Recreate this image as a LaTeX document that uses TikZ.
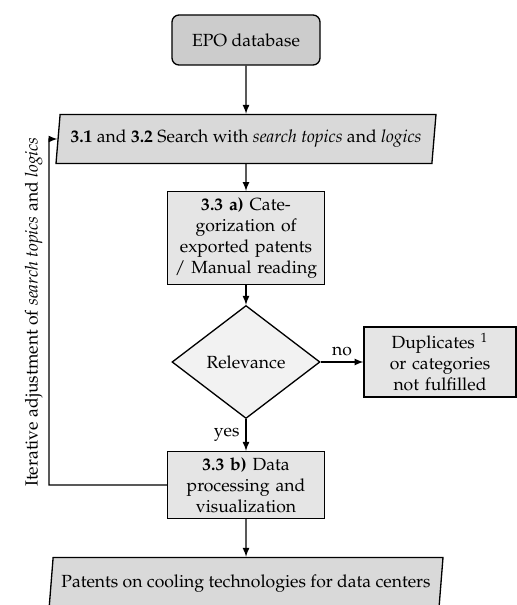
\documentclass[tikz,border=0pt]{standalone}
\usepackage[T1]{fontenc}
\usepackage{mathpazo}
\usetikzlibrary{arrows,shapes,positioning}
\tikzset{
  basic/.style    = {draw, line width=0.75pt, align=center},
  startbox/.style = {basic, rectangle, rounded corners=4pt, fill=gray!40,
                     minimum width=2.96cm, minimum height=1cm},
  iobox/.style    = {basic, trapezium, trapezium left angle=82,
                     trapezium right angle=98, trapezium stretches body,
                     fill=gray!30, minimum height=0.98cm},
  procbox/.style  = {basic, rectangle, fill=gray!20, text width=2.9cm},
  decision/.style = {basic, diamond, fill=gray!10, inner sep=0pt,
                     minimum width=2.96cm, minimum height=2.26cm}
}

\begin{document}
\begin{tikzpicture}[>=latex, node distance=1.98cm, line width=0.75pt]
\useasboundingbox (-4.92,-11.30) rectangle (5.42,0.80);

% main column
\node[startbox] (epo) {EPO database};
\node[iobox, minimum width=7.6cm, below of = epo] (search) {\textbf{3.1} and \textbf{3.2} Search with \textit{search topics} and \textit{logics}};
\node[procbox, minimum height=1.82cm, below of = search] (cat) {\textbf{3.3 a)} Cate-\\gorization of\\exported patents\\/ Manual reading};
\node[decision, below of = cat, node distance=2.48cm] (rel) {Relevance};
\node[procbox, minimum height=1.40cm, text width=2.8cm, right of = rel, node distance=3.88cm] (dup) {Duplicates $^1$\\or categories\\not fulfilled};
\node[procbox, minimum height=1.32cm, below of = rel, node distance=2.46cm] (data) {\textbf{3.3 b)} Data\\processing and\\visualization};
\node[iobox, minimum width=7.88cm, minimum height=1.04cm, below of = data, node distance=1.97cm] (pat) {Patents on cooling technologies for data centers};

% corners of the feedback loop
\coordinate [left of = data, node distance=3.94cm] (loopbot);
\coordinate [left of = search, node distance=3.94cm] (looptop);

\draw[->] (epo) -- (search);
\draw[->] (search) -- (cat);
\draw[->] (cat) -- (rel);
\draw[->] (rel) -- node[above] {no} (dup);
\draw[->] (rel) -- node[left] {yes} (data);
\draw[->] (data) -- (pat);
\draw[->] (data.west) -- (loopbot) -- node[above, sloped] {Iterative adjustment of \textit{search topics} and \textit{logics}} (looptop) -- (search.west);
\end{tikzpicture}
\end{document}
